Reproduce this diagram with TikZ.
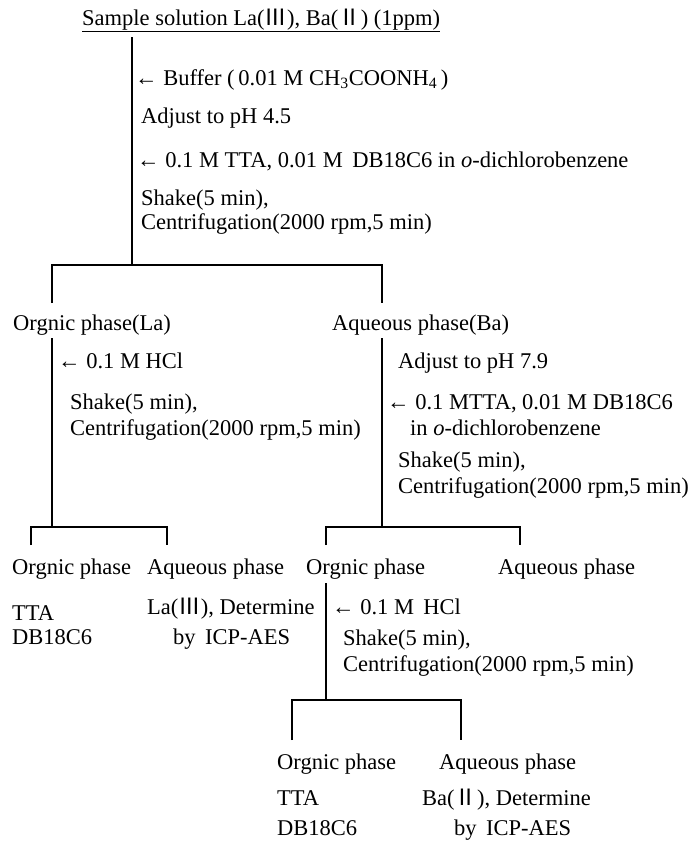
\documentclass[tikz,border=0pt]{standalone}
\usepackage{fontspec}
\setmainfont{Liberation Serif}
\newfontfamily\cjk{Noto Sans CJK JP}
\newcommand{\rmn}[1]{{\cjk #1}}
\tikzset{
  lbl/.style={anchor=base west, inner sep=0pt, font=\fontsize{22.5}{26}\selectfont},
  lnk/.style={line width=1.4pt},
}
\begin{document}
\begin{tikzpicture}[x=1pt,y=-1pt]
  \useasboundingbox (0,0) rectangle (692,841);
  % first extraction
  \node[lbl] (sample) at (82,25) {\underline{Sample solution La(\rmn{Ⅲ}), Ba(\rmn{Ⅱ}) (1ppm)}};
  \node[lbl] (bufA) at (135,85) {← Buffer (\,0.01 M CH\textsubscript{3}COONH\textsubscript{4}\,)};
  \node[lbl] (adjA) at (141,123) {Adjust to pH 4.5};
  \node[lbl] (ttaA) at (137,167) {← 0.1 M TTA, 0.01 M\, DB18C6 in \textit{o}-dichlorobenzene};
  \node[lbl] (shakeA) at (141,205) {Shake(5 min),};
  \node[lbl] (centA) at (141,229) {Centrifugation(2000 rpm,5 min)};
  \coordinate (topA) at (132,37);
  \coordinate (splitA) at (132,265);
  \coordinate (dropLa) at (52,303);
  \coordinate (dropBa) at (382,303);
  \draw[lnk] (topA) -- (splitA);
  \draw[lnk] (dropLa) |- (splitA) -| (dropBa);
  % La branch
  \node[lbl] (orgLa) at (13,330) {Orgnic phase(La)};
  \node[lbl] (hclL) at (58,368) {← 0.1 M HCl};
  \node[lbl] (shakeL) at (70,409) {Shake(5 min),};
  \node[lbl] (centL) at (70,435) {Centrifugation(2000 rpm,5 min)};
  \coordinate (topL) at (52,338);
  \coordinate (splitL) at (52,527);
  \coordinate (dropL1) at (31,545);
  \coordinate (dropL2) at (167,545);
  \draw[lnk] (topL) -- (splitL);
  \draw[lnk] (dropL1) |- (splitL) -| (dropL2);
  \node[lbl] (orgL) at (12,574) {Orgnic phase};
  \node[lbl] (aqL) at (147,574) {Aqueous phase};
  \node[lbl] (ttaL) at (12,620) {TTA};
  \node[lbl] (dbL) at (12,644) {DB18C6};
  \node[lbl] (laDet) at (147,614) {La(\rmn{Ⅲ}), Determine};
  \node[lbl] (laIcp) at (173,644) {by\, ICP-AES};
  % Ba branch
  \node[lbl] (aqBa) at (332,330) {Aqueous phase(Ba)};
  \node[lbl] (adjB) at (398,368) {Adjust to pH 7.9};
  \node[lbl] (ttaB) at (387,409) {← 0.1 MTTA, 0.01 M DB18C6};
  \node[lbl] (inB) at (410,435) {in \textit{o}-dichlorobenzene};
  \node[lbl] (shakeB) at (398,467) {Shake(5 min),};
  \node[lbl] (centB) at (398,493) {Centrifugation(2000 rpm,5 min)};
  \coordinate (topB) at (382,338);
  \coordinate (splitB) at (382,527);
  \coordinate (dropB1) at (326,545);
  \coordinate (dropB2) at (520,545);
  \draw[lnk] (topB) -- (splitB);
  \draw[lnk] (dropB1) |- (splitB) -| (dropB2);
  \node[lbl] (orgB) at (306,574) {Orgnic phase};
  \node[lbl] (aqB) at (498,574) {Aqueous phase};
  % back extraction of Ba
  \node[lbl] (hclC) at (332,614) {← 0.1 M\, HCl};
  \node[lbl] (shakeC) at (343,645) {Shake(5 min),};
  \node[lbl] (centC) at (343,671) {Centrifugation(2000 rpm,5 min)};
  \coordinate (topC) at (326,583);
  \coordinate (splitC) at (326,700);
  \coordinate (dropC1) at (292,740);
  \coordinate (dropC2) at (461,740);
  \draw[lnk] (topC) -- (splitC);
  \draw[lnk] (dropC1) |- (splitC) -| (dropC2);
  \node[lbl] (orgC) at (277,769) {Orgnic phase};
  \node[lbl] (aqC) at (439,769) {Aqueous phase};
  \node[lbl] (ttaC) at (277,805) {TTA};
  \node[lbl] (dbC) at (277,835) {DB18C6};
  \node[lbl] (baDet) at (422,805) {Ba(\rmn{Ⅱ}), Determine};
  \node[lbl] (baIcp) at (454,835) {by\, ICP-AES};
\end{tikzpicture}
\end{document}
